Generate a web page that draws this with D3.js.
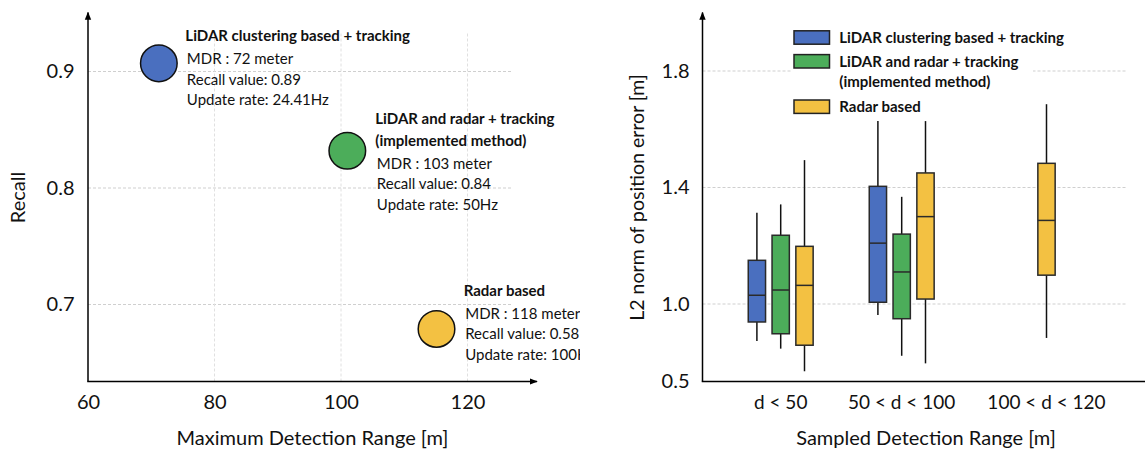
<!DOCTYPE html>
<html>
<head>
<meta charset="utf-8">
<script src="https://cdn.jsdelivr.net/npm/d3@7"></script>
<style>
  html, body { margin: 0; padding: 0; background: #fff; }
  svg { display: block; font-family: Lato, "Open Sans", sans-serif; }
</style>
</head>
<body>
<svg id="chart" width="1145" height="452"></svg>
<script>
// ---------------- DATA ----------------
// Left panel: scatter of methods
const methodNames = ["LiDAR clustering based + tracking", "LiDAR and radar + tracking", "Radar based"];
const methodSubtitles = ["", "(implemented method)", ""];
const mdrPlotted = [71.2, 101.0, 115.1];      // x position
const recallPlotted = [0.907, 0.832, 0.679];  // y position
const mdrText = ["72", "103", "118"];
const recallText = ["0.89", "0.84", "0.58"];
const updateRateText = ["24.41Hz", "50Hz", "100Hz"];
const leftXTicks = [60, 80, 100, 120];
const leftYTicks = [0.7, 0.8, 0.9];

// Right panel: box plots  [whiskerLow, q1, median, q3, whiskerHigh]
const rangeCategories = ["d < 50", "50 < d < 100", "100 < d < 120"];
const seriesLegend = ["LiDAR clustering based + tracking", "LiDAR and radar + tracking", "Radar based"];
const seriesLegendSub = ["", "(implemented method)", ""];
const boxLidarClustering = [[0.761, 0.884, 1.030, 1.150, 1.313], [0.929, 1.006, 1.209, 1.404, 1.628], null];
const boxLidarRadar      = [[0.712, 0.808, 1.048, 1.236, 1.342], [0.666, 0.905, 1.110, 1.240, 1.368], null];
const boxRadar           = [[0.566, 0.734, 1.064, 1.198, 1.494], [0.617, 1.017, 1.300, 1.450, 1.628], [0.781, 1.099, 1.287, 1.483, 1.686]];
const rightYTicks = [0.5, 1.0, 1.4, 1.8];

const colors = ["#4A6FBF", "#4CAD5A", "#F3C142"];

// ---------------- LAYOUT ----------------
const svg = d3.select("#chart");
const FONT = "Lato, 'Open Sans', sans-serif";
const ANNO = 15;
const TICK = 20;
const TITLE = 20;
const defs = svg.append("defs");
defs.append("marker").attr("id", "arrow")
  .attr("viewBox", "0 0 10 10").attr("refX", 9).attr("refY", 5)
  .attr("markerWidth", 8).attr("markerHeight", 8)
  .attr("markerUnits", "userSpaceOnUse")
  .attr("orient", "auto")
  .append("path").attr("d", "M0,1 L10,5 L0,9 Z").attr("fill", "#000");
defs.append("clipPath").attr("id", "leftClip")
  .append("rect").attr("x", 0).attr("y", 0).attr("width", 580).attr("height", 452);

// ===== LEFT PANEL =====
const L = svg.append("g").attr("clip-path", "url(#leftClip)");
const axisY0 = 381.5;
const lx = d3.scaleLinear().domain([60, 120]).range([88, 467.5]);
const ly = d3.scaleLinear().domain([0.7, 0.9]).range([304.5, 71.5]);

// grid
L.append("g").selectAll("line").data(leftYTicks).join("line")
  .attr("x1", lx(60)).attr("x2", 512)
  .attr("y1", d => ly(d)).attr("y2", d => ly(d))
  .attr("stroke", "#cfcfcf").attr("stroke-width", 1).attr("stroke-dasharray", "3,2");
L.append("g").selectAll("line").data(leftXTicks.slice(1)).join("line")
  .attr("x1", d => lx(d)).attr("x2", d => lx(d))
  .attr("y1", axisY0).attr("y2", 33)
  .attr("stroke", "#e0e0e0").attr("stroke-width", 1).attr("stroke-dasharray", "3,2");

// axes lines with arrows
L.append("line").attr("x1", lx(60)).attr("x2", lx(60)).attr("y1", axisY0).attr("y2", 12.5)
  .attr("stroke", "#000").attr("stroke-width", 1.5).attr("marker-end", "url(#arrow)");
L.append("line").attr("x1", lx(60) - 0.75).attr("x2", 537).attr("y1", axisY0).attr("y2", axisY0)
  .attr("stroke", "#000").attr("stroke-width", 1.5).attr("marker-end", "url(#arrow)");

// tick labels via d3 axes
const lxAxis = L.append("g").attr("transform", `translate(0,${axisY0})`)
  .call(d3.axisBottom(lx).tickValues(leftXTicks).tickFormat(d3.format("d")).tickSize(0).tickPadding(13));
const lyAxis = L.append("g").attr("transform", `translate(${lx(60)},0)`)
  .call(d3.axisLeft(ly).tickValues(leftYTicks).tickFormat(d3.format(".1f")).tickSize(0).tickPadding(13.5));
[lxAxis, lyAxis].forEach(a => {
  a.select(".domain").remove();
  a.selectAll("text").attr("font-family", FONT).attr("font-size", TICK).attr("fill", "#111");
});

// axis titles
L.append("text").attr("x", 312.5).attr("y", 445).attr("text-anchor", "middle")
  .attr("font-size", TITLE).attr("fill", "#111").text("Maximum Detection Range [m]");
L.append("text").attr("transform", "translate(25,197.5) rotate(-90)").attr("text-anchor", "middle")
  .attr("font-size", TITLE).attr("fill", "#111").text("Recall");

// circles
const pts = methodNames.map((n, i) => ({ name: n, sub: methodSubtitles[i], x: mdrPlotted[i], y: recallPlotted[i],
  mdr: mdrText[i], rec: recallText[i], rate: updateRateText[i], color: colors[i] }));
L.append("g").selectAll("circle").data(pts).join("circle")
  .attr("cx", d => lx(d.x)).attr("cy", d => ly(d.y)).attr("r", 18.3)
  .attr("fill", d => d.color).attr("stroke", "#111").attr("stroke-width", 1.5);

// annotations (title baseline offset from circle centre)
const annoDx = [26.5, 28, 27.2];
const annoDy = [-22, -26.4, -33.3];
pts.forEach((d, i) => {
  const g = L.append("g").attr("transform", `translate(${lx(d.x) + annoDx[i]},${ly(d.y) + annoDy[i]})`);
  let yy = 0;
  g.append("text").attr("x", 0).attr("y", yy).attr("font-size", ANNO).attr("font-weight", "bold")
    .attr("fill", "#111").text(d.name);
  if (d.sub) {
    yy += 21.5;
    g.append("text").attr("x", 0).attr("y", yy).attr("font-size", ANNO).attr("font-weight", "bold")
      .attr("fill", "#111").text(d.sub);
  }
  const lines = [`MDR : ${d.mdr} meter`, `Recall value: ${d.rec}`, `Update rate: ${d.rate}`];
  yy += 23;
  lines.forEach((t, k) => {
    g.append("text").attr("x", 1.5).attr("y", yy + k * 20.5).attr("font-size", ANNO)
      .attr("fill", "#111").text(t);
  });
});

// ===== RIGHT PANEL =====
const R = svg.append("g");
const rAxisX = 702.5;
const ry = d3.scaleLinear().domain([0.5, 1.0, 1.8]).range([axisY0, 304, 71]);
const x0 = d3.scaleBand().domain(rangeCategories).range([720.2, 1083.2]).paddingInner(0).paddingOuter(0);
const x1 = d3.scaleBand().domain(d3.range(3)).range([-32.45, 32.45]).paddingInner(0.273).paddingOuter(0);
const boxW = x1.bandwidth();

// grid
R.append("g").selectAll("line").data(rightYTicks.slice(1)).join("line")
  .attr("x1", rAxisX).attr("x2", 1127)
  .attr("y1", d => ry(d)).attr("y2", d => ry(d))
  .attr("stroke", "#cfcfcf").attr("stroke-width", 1).attr("stroke-dasharray", "3,2");

// axes
R.append("line").attr("x1", rAxisX).attr("x2", rAxisX).attr("y1", axisY0).attr("y2", 12.5)
  .attr("stroke", "#000").attr("stroke-width", 1.5).attr("marker-end", "url(#arrow)");
R.append("line").attr("x1", rAxisX - 0.75).attr("x2", 1145).attr("y1", axisY0).attr("y2", axisY0)
  .attr("stroke", "#000").attr("stroke-width", 1.5);

const ryAxis = R.append("g").attr("transform", `translate(${rAxisX},0)`)
  .call(d3.axisLeft(ry).tickValues(rightYTicks).tickFormat(d3.format(".1f")).tickSize(0).tickPadding(13));
ryAxis.select(".domain").remove();
ryAxis.selectAll("text").attr("font-family", FONT).attr("font-size", TICK).attr("fill", "#111");

// boxes
const allSeries = [boxLidarClustering, boxLidarRadar, boxRadar];
const boxes = [];
rangeCategories.forEach((c, ci) => {
  allSeries.forEach((s, si) => {
    if (s[ci]) {
      const [lo, q1, med, q3, hi] = s[ci];
      boxes.push({ cat: c, si, lo, q1, med, q3, hi, cx: x0(c) + x0.bandwidth() / 2 + x1(si) + boxW / 2 });
    }
  });
});
const bg = R.append("g").selectAll("g").data(boxes).join("g");
bg.append("line").attr("x1", d => d.cx).attr("x2", d => d.cx)
  .attr("y1", d => ry(d.hi)).attr("y2", d => ry(d.q3)).attr("stroke", "#111").attr("stroke-width", 1.5);
bg.append("line").attr("x1", d => d.cx).attr("x2", d => d.cx)
  .attr("y1", d => ry(d.q1)).attr("y2", d => ry(d.lo)).attr("stroke", "#111").attr("stroke-width", 1.5);
bg.append("rect").attr("x", d => d.cx - boxW / 2).attr("width", boxW)
  .attr("y", d => ry(d.q3)).attr("height", d => ry(d.q1) - ry(d.q3))
  .attr("fill", d => colors[d.si]).attr("stroke", "#2a2a2a").attr("stroke-width", 1.5);
bg.append("line").attr("x1", d => d.cx - boxW / 2).attr("x2", d => d.cx + boxW / 2)
  .attr("y1", d => ry(d.med)).attr("y2", d => ry(d.med)).attr("stroke", "#2a2a2a").attr("stroke-width", 1.5);

// category labels centred under the boxes present in each group
rangeCategories.forEach(c => {
  const xs = boxes.filter(b => b.cat === c).map(b => b.cx);
  R.append("text").attr("x", d3.mean(xs)).attr("y", 409).attr("text-anchor", "middle")
    .attr("font-size", 19).attr("fill", "#111").text(c);
});

// axis titles
R.append("text").attr("x", 926).attr("y", 445).attr("text-anchor", "middle")
  .attr("font-size", TITLE).attr("fill", "#111").text("Sampled Detection Range [m]");
R.append("text").attr("transform", "translate(644,197.5) rotate(-90)").attr("text-anchor", "middle")
  .attr("font-size", 19.5).attr("fill", "#111").text("L2 norm of position error [m]");

// legend
const lg = R.append("g");
lg.append("rect").attr("x", 791.5).attr("y", 22).attr("width", 241.5).attr("height", 98).attr("fill", "#fff");
const legRowY = [37.5, 61.3, 106.7];   // swatch centres
seriesLegend.forEach((n, i) => {
  lg.append("rect").attr("x", 794).attr("y", legRowY[i] - 6.7).attr("width", 35.5).attr("height", 13.4)
    .attr("fill", colors[i]).attr("stroke", "#222").attr("stroke-width", 1.5);
  lg.append("text").attr("x", 839.3).attr("y", legRowY[i] + 5.5).attr("font-size", ANNO).attr("font-weight", "bold")
    .attr("fill", "#111").text(n);
  if (seriesLegendSub[i]) {
    lg.append("text").attr("x", 839.3).attr("y", legRowY[i] + 25.5).attr("font-size", ANNO).attr("font-weight", "bold")
      .attr("fill", "#111").text(seriesLegendSub[i]);
  }
});
</script>
</body>
</html>
